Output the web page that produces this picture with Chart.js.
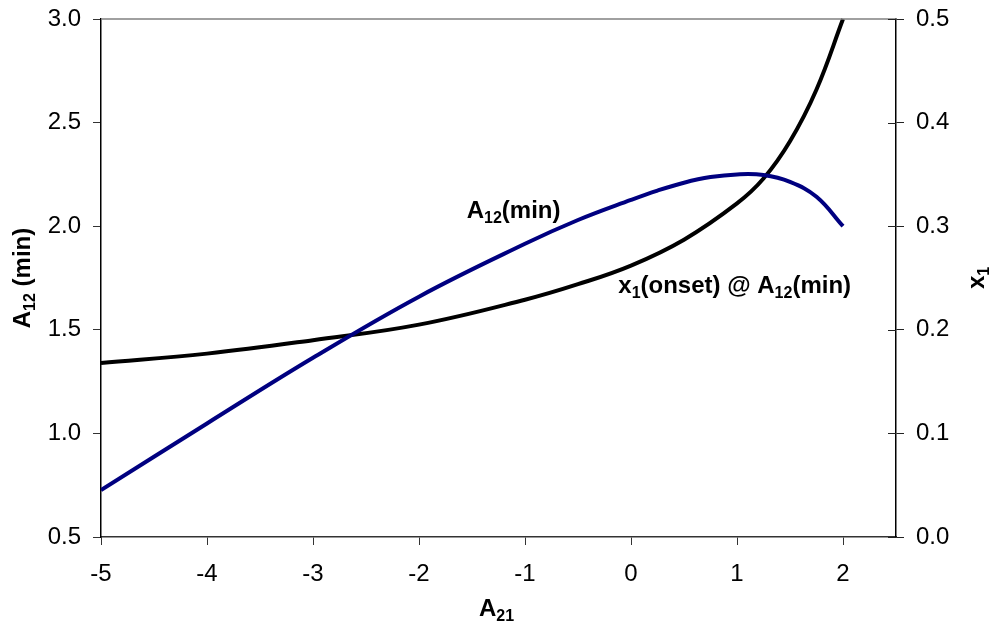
<!DOCTYPE html>
<html>
<head>
<meta charset="utf-8">
<script src="https://cdn.jsdelivr.net/npm/chart.js@4"></script>
<style>
  html, body { margin: 0; padding: 0; background: #fff; }
  #wrap { width: 990px; height: 626px; }
</style>
</head>
<body>
<div id="wrap"><canvas id="chart" width="990" height="626"></canvas></div>
<script>
// data
const a21Blue = [-5, -4, -3, -2, -1, -0.5, 0, 0.25, 0.5, 0.75, 1, 1.25, 1.5, 1.75, 2];
const a12Min = [0.726, 1.048, 1.365, 1.66, 1.915, 2.03, 2.127, 2.172, 2.21, 2.237, 2.25, 2.247, 2.214, 2.142, 2.0];

const a21Black = [-5, -4, -3, -2, -1, -0.5, 0, 0.5, 1, 1.25, 1.5, 1.75, 2];
const x1Onset = [0.168, 0.177, 0.190, 0.205, 0.229, 0.244, 0.262, 0.287, 0.322, 0.346, 0.382, 0.432, 0.5];

const xTicks = [-5, -4, -3, -2, -1, 0, 1, 2];
const leftTicks = [0.5, 1.0, 1.5, 2.0, 2.5, 3.0];
const rightTicks = [0.0, 0.1, 0.2, 0.3, 0.4, 0.5];

const FONT = "'Liberation Sans', Arial, sans-serif";

// text with subscripts: [text, isSub]
function drawRich(ctx, parts, x, y, opts) {
  const size = opts.size || 24;
  const subSize = Math.round(size * 0.66);
  const weight = opts.bold ? 'bold ' : '';
  let total = 0;
  const widths = parts.map(p => {
    ctx.font = weight + (p[1] ? subSize : size) + 'px ' + FONT;
    const w = ctx.measureText(p[0]).width;
    total += w;
    return w;
  });
  ctx.save();
  ctx.translate(x, y);
  if (opts.rotate) ctx.rotate(opts.rotate);
  let cx = opts.align === 'left' ? 0 : -total / 2;
  ctx.fillStyle = '#000';
  ctx.textBaseline = 'middle';
  ctx.textAlign = 'left';
  parts.forEach((p, i) => {
    ctx.font = weight + (p[1] ? subSize : size) + 'px ' + FONT;
    ctx.fillText(p[0], cx, p[1] ? size * 0.3 : 0);
    cx += widths[i];
  });
  ctx.restore();
}

const decorPlugin = {
  id: 'decor',
  afterDraw(chart) {
    const ctx = chart.ctx;
    const area = chart.chartArea;
    const sx = chart.scales.x, sy = chart.scales.y, sy2 = chart.scales.y2;

    // top border
    ctx.save();
    ctx.strokeStyle = '#808080';
    ctx.lineWidth = 1.5;
    ctx.beginPath();
    ctx.moveTo(area.left, area.top);
    ctx.lineTo(area.right, area.top);
    ctx.stroke();

    // inner half of right axis ticks
    ctx.strokeStyle = '#222';
    ctx.lineWidth = 1;
    rightTicks.forEach(v => {
      const py = Math.round(sy2.getPixelForValue(v)) + 0.5;
      ctx.beginPath();
      ctx.moveTo(area.right - 8, py);
      ctx.lineTo(area.right, py);
      ctx.stroke();
    });
    ctx.restore();

    // in-plot labels
    drawRich(ctx, [['A', 0], ['12', 1], ['(min)', 0]],
      sx.getPixelForValue(-1.55), sy.getPixelForValue(2.07), { bold: true, align: 'left' });
    drawRich(ctx, [['x', 0], ['1', 1], ['(onset) @ A', 0], ['12', 1], ['(min)', 0]],
      sx.getPixelForValue(-0.12), sy.getPixelForValue(1.71), { bold: true, align: 'left' });

    // axis titles
    const midY = (area.top + area.bottom) / 2;
    drawRich(ctx, [['A', 0], ['12', 1], [' (min)', 0]], 23, midY, { bold: true, rotate: -Math.PI / 2 });
    drawRich(ctx, [['A', 0], ['21', 1]], (area.left + area.right) / 2 - 2, 609, { bold: true });
    drawRich(ctx, [['x', 0], ['1', 1]], 977, midY, { bold: true, rotate: -Math.PI / 2 });
  }
};

const tickFont = { family: FONT, size: 24 };

// fixed axis boxes so the plot area sits where it does in the figure
function fitY(width) {
  return s => { s.width = width; s.paddingTop = 0; s.paddingBottom = 0; };
}

new Chart(document.getElementById('chart'), {
  type: 'scatter',
  data: {
    datasets: [
      {
        label: 'A12(min)',
        data: a21Blue.map((x, i) => ({ x: x, y: a12Min[i] })),
        yAxisID: 'y',
        showLine: true,
        borderColor: '#000080',
        borderWidth: 4,
        pointRadius: 0,
        tension: 0.4,
        fill: false
      },
      {
        label: 'x1(onset) @ A12(min)',
        data: a21Black.map((x, i) => ({ x: x, y: x1Onset[i] })),
        yAxisID: 'y2',
        showLine: true,
        borderColor: '#000000',
        borderWidth: 4,
        pointRadius: 0,
        tension: 0.4,
        fill: false,
        clip: false
      }
    ]
  },
  options: {
    responsive: false,
    animation: false,
    layout: { padding: { top: 19, left: 0, right: 0, bottom: 0 } },
    plugins: {
      legend: { display: false },
      tooltip: { enabled: false }
    },
    scales: {
      x: {
        type: 'linear',
        min: -5,
        max: 2.5,
        afterBuildTicks: s => { s.ticks = xTicks.map(v => ({ value: v })); },
        afterFit: s => { s.height = 89; s.paddingLeft = 0; s.paddingRight = 0; },
        ticks: { font: tickFont, color: '#000', padding: 15 },
        grid: { drawOnChartArea: false, tickLength: 8, color: '#333', tickWidth: 1 },
        border: { color: '#333', width: 1.5 }
      },
      y: {
        position: 'left',
        min: 0.5,
        max: 3.0,
        afterBuildTicks: s => { s.ticks = leftTicks.map(v => ({ value: v })); },
        afterFit: fitY(101),
        ticks: { font: tickFont, color: '#000', padding: 12, callback: v => v.toFixed(1) },
        grid: { drawOnChartArea: false, tickLength: 8, color: '#333', tickWidth: 1 },
        border: { color: '#000', width: 1.5 }
      },
      y2: {
        position: 'right',
        min: 0,
        max: 0.5,
        afterBuildTicks: s => { s.ticks = rightTicks.map(v => ({ value: v })); },
        afterFit: fitY(94),
        ticks: { font: tickFont, color: '#000', padding: 12, callback: v => v.toFixed(1) },
        grid: { drawOnChartArea: false, tickLength: 8, color: '#222', tickWidth: 1 },
        border: { color: '#000', width: 1.5 }
      }
    }
  },
  plugins: [decorPlugin]
});
</script>
</body>
</html>
